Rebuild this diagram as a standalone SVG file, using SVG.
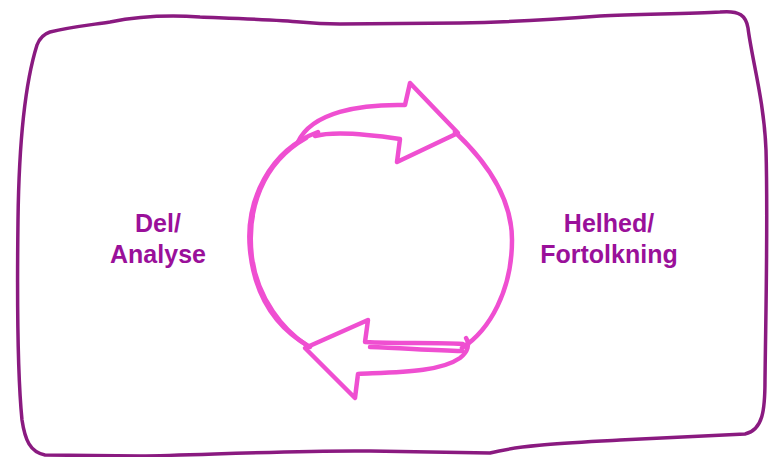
<svg xmlns="http://www.w3.org/2000/svg" width="770" height="457" viewBox="0 0 770 457">
<style>
.frame{fill:none;stroke:#8a1a80;stroke-width:3.5;stroke-linecap:round;stroke-linejoin:round}
.cyc{fill:none;stroke:#ef4fd1;stroke-width:4.5;stroke-linecap:round;stroke-linejoin:round}
.lbl{font-family:"Liberation Sans",Arial,sans-serif;font-weight:bold;font-size:25px;fill:#9a109a;text-anchor:middle}
</style>
<rect width="770" height="457" fill="#ffffff"/>
<g id="frame">
<path class="frame" d="M 50,32 C 70,27 90,25 110,22 C 140,16 170,15 200,17 C 250,19 280,20 300,22 C 320,24 330,24 340,24 L 460,23 C 520,22 560,19 600,16 C 640,14 690,14 720,12 C 740,10 746,16 748,28 C 752,60 764,100 766,150 C 768,220 766,300 765,380 C 765,410 763,430 745,434 L 620,440 C 570,443 520,445 490,453 L 370,451 C 300,450 200,455 140,456 L 45,455 C 30,452 25,440 22,420 C 18,380 17,300 18,220 C 19,140 26,80 37,45 C 40,37 44,34 50,32 Z"/>
</g>
<g id="cycle">
<path class="cyc" d="M 298,142 C 312,112 360,104 405,105 L 410,83 L 458,133 L 397,162 L 400,139 C 360,133 330,132 315,136"/>
<path class="cyc" d="M 318,132 C 270,150 245,200 250,250 C 255,300 280,330 310,347"/>
<path class="cyc" d="M 306,138 C 262,163 246,210 252,258 C 258,300 284,330 305,344"/>
<path class="cyc" d="M 455,132 C 490,165 512,200 512,240 C 512,290 490,330 462,348"/>
<path class="cyc" d="M 463,344 C 430,342 400,344 365,342 L 368,320 L 305,348 L 355,398 L 358,374 C 400,372 440,372 460,358 C 468,352 470,344 466,338"/>
<path class="cyc" d="M 462,351 C 430,350 400,348 370,347"/>
</g>
<g id="left">
<text class="lbl" x="158" y="232">Del/</text>
<text class="lbl" x="158" y="263">Analyse</text>
</g>
<g id="right">
<text class="lbl" x="609" y="232">Helhed/</text>
<text class="lbl" x="609" y="263">Fortolkning</text>
</g>
</svg>
